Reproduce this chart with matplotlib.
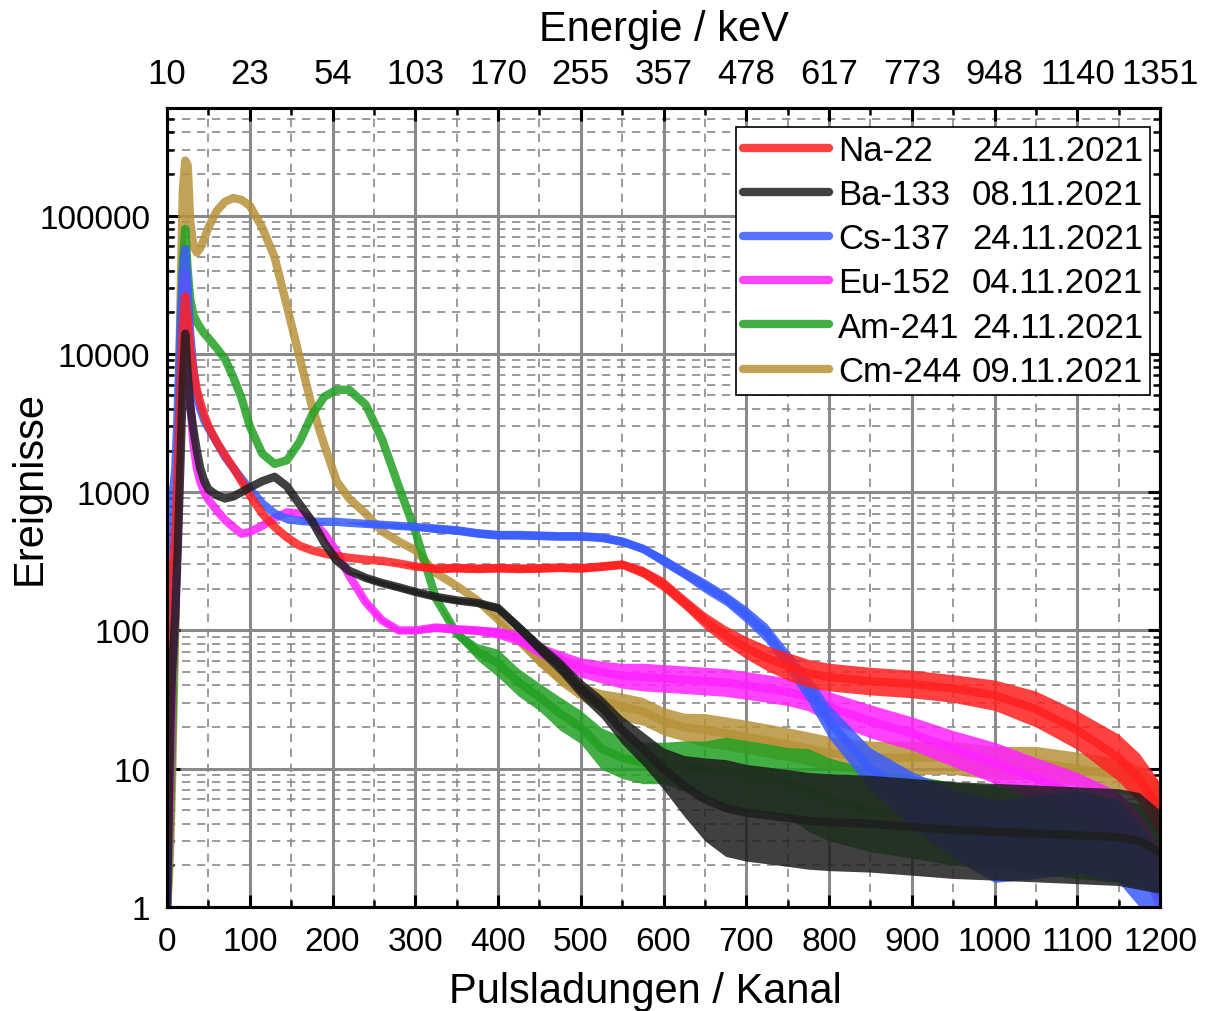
import numpy as np
import matplotlib.pyplot as plt
from matplotlib import ticker
from matplotlib.lines import Line2D

plt.rcParams['font.family'] = ['Liberation Sans', 'DejaVu Sans']

# channel grid the spectra were read on
ch = [0, 2, 4, 6, 8, 10,
      13, 16, 19, 22, 25, 28,
      32, 36, 40, 45, 50,
      60, 70, 80, 90, 100,
      115, 130, 145, 160, 175, 190, 205, 220,
      240, 260, 280, 300,
      325, 350, 375, 400, 425, 450, 475, 500,
      525, 550, 575, 600, 625, 650, 675, 700,
      725, 750, 775, 800,
      850, 900, 950, 1000, 1050, 1100, 1150, 1175, 1200]

# counts (centre of the trace) and noise half-width in decades
na22 = [3, 250, 300, 300, 330, 500,
        1500, 5000, 15000, 26000, 18000, 11000,
        7500, 5500, 4500, 3600, 3000,
        2300, 1850, 1500, 1200, 950,
        700, 560, 470, 410, 380, 360, 345, 335,
        325, 318, 305, 290,
        280, 283, 280, 283, 280, 282, 285, 282,
        290, 300, 265, 215, 160, 118, 92, 75,
        63, 55, 49, 46,
        43, 41, 38, 34, 27, 19, 12, 8.5, 5]
na22_noise = [0] * 33 + [.02] + [.03] * 8 + \
    [.03, .03, .04, .05, .05, .06, .07, .08,
     .09, .1, .1, .1,
     .1, .1, .1, .11, .13, .14, .17, .18, .2]

ba133 = [1, 5, 20, 50, 80, 130,
         400, 1500, 6000, 14000, 7000, 4200,
         2800, 2000, 1500, 1200, 1050,
         950, 900, 930, 1000, 1080,
         1200, 1290, 1100, 820, 620, 430, 320, 270,
         240, 220, 205, 190,
         175, 165, 158, 145, 105, 75, 55, 38,
         28, 19, 14, 10, 7.5, 6, 5.2, 4.8,
         4.6, 4.4, 4.2, 4.1,
         4, 3.8, 3.6, 3.5, 3.4, 3.3, 3.2, 3, 2.5]
ba133_noise = [0] * 30 + [.02] * 4 + \
    [.02, .02, .02, .03, .04, .05, .06, .07,
     .08, .1, .12, .15, .22, .3, .35, .35,
     .35, .35, .35, .35,
     .35, .35, .35, .35, .35, .35, .35, .35, .3]

cs137 = [1, 400, 1000, 1000, 1100, 1500,
         4000, 15000, 40000, 57000, 30000, 14000,
         7500, 5000, 4000, 3300, 2900,
         2300, 1800, 1500, 1250, 1050,
         830, 700, 640, 620, 610, 610, 610, 600,
         590, 580, 570, 560,
         545, 530, 505, 490, 490, 485, 480, 480,
         470, 440, 390, 320, 260, 210, 170, 130,
         95, 60, 38, 22,
         10, 6, 4, 3, 3.2, 3.5, 3, 2, 1.2]
cs137_noise = [0] * 30 + [.02] * 4 + [.03] * 8 + \
    [.03, .03, .03, .04, .04, .05, .05, .06,
     .07, .08, .1, .12,
     .15, .2, .25, .3, .3, .3, .3, .3, .3]

eu152 = [1, 3, 10, 40, 80, 150,
         500, 3000, 15000, 38000, 12000, 4500,
         2200, 1500, 1200, 1000, 880,
         740, 630, 560, 500, 515,
         570, 650, 715, 700, 620, 500, 370, 250,
         160, 118, 100, 100,
         105, 102, 100, 96, 88, 72, 62, 54,
         50, 47, 46, 45, 44, 43, 42, 40,
         38, 36, 33, 28,
         22, 18, 14, 11, 8.5, 6.5, 4.5, 3, 1.5]
eu152_noise = [0] * 30 + [.02] * 4 + \
    [.03, .03, .03, .04, .05, .05, .06, .07,
     .08, .09, .1, .1, .1, .1, .1, .1,
     .1, .1, .1, .11,
     .12, .12, .13, .15, .15, .16, .18, .2, .25]

am241 = [1, 2, 5, 15, 50, 150,
         1000, 8000, 45000, 80000, 40000, 25000,
         19000, 17000, 15500, 14000, 13000,
         11000, 9200, 6800, 4800, 3000,
         1900, 1600, 1700, 2300, 3600, 4900, 5500, 5500,
         4300, 2400, 1100, 520,
         170, 95, 70, 58, 42, 33, 25, 20,
         14, 12, 11, 11, 10.5, 10, 9.5, 9,
         8.5, 8, 7, 6,
         5, 4.5, 4, 3.8, 3.5, 3.2, 3, 2.8, 2.5]
am241_noise = [0] * 34 + \
    [0, .03, .06, .1, .1, .1, .12, .12,
     .15, .15, .15, .15, .18, .2, .25, .25,
     .25, .25, .3, .3] + [.3] * 9

cm244 = [1, 1.5, 3, 8, 30, 100,
         1500, 20000, 150000, 250000, 230000, 90000,
         60000, 54000, 58000, 68000, 82000,
         108000, 126000, 134000, 130000, 118000,
         82000, 50000, 22000, 9500, 4200, 2200, 1200, 900,
         700, 520, 440, 380,
         260, 210, 165, 120, 85, 60, 45, 36,
         31, 28, 26, 22, 20, 19, 18, 17,
         16, 15, 14, 13,
         12, 12, 12, 11, 11, 10, 9, 8, 6]
cm244_noise = [0] * 34 + \
    [0, 0, 0, .02, .03, .04, .05, .06,
     .08, .1, .1, .1, .1, .12, .12, .12] + [.12] * 13

names = ['Na-22', 'Ba-133', 'Cs-137', 'Eu-152', 'Am-241', 'Cm-244']
dates = ['24.11.2021', '08.11.2021', '24.11.2021', '04.11.2021',
         '24.11.2021', '09.11.2021']
colors = ['#ff2020', '#1e1e1e', '#3a5cff', '#ff22ff', '#22a022', '#b8923a']
series = [na22, ba133, cs137, eu152, am241, cm244]
noises = [na22_noise, ba133_noise, cs137_noise, eu152_noise, am241_noise, cm244_noise]
zorders = [6, 7, 5, 4, 3, 2]

energy_labels = ['10', '23', '54', '103', '170', '255', '357', '478',
                 '617', '773', '948', '1140', '1351']

fig = plt.figure(figsize=(12.07, 10.12), dpi=100)
ax = fig.add_axes([0.1384, 0.1028, 0.8227, 0.7895])

x = np.array(ch, dtype=float)
handles = {}
for name, vals, nz, col, z in zip(names, series, noises, colors, zorders):
    v = np.array(vals, dtype=float)
    s = np.array(nz, dtype=float)
    ax.fill_between(x, v / 10**s, v * 10**s, color=col, alpha=0.85, lw=0, zorder=z)
    line, = ax.plot(x, v, color=col, lw=6, alpha=0.85, zorder=z,
                    solid_capstyle='round', solid_joinstyle='round')
    handles[name] = line

ax.set_xlim(0, 1200)
ax.set_yscale('log')
ax.set_ylim(1, 6e5)
ax.xaxis.set_major_locator(ticker.MultipleLocator(100))
ax.xaxis.set_minor_locator(ticker.MultipleLocator(50))
ax.yaxis.set_major_locator(ticker.LogLocator(base=10, numticks=10))
ax.yaxis.set_minor_locator(ticker.LogLocator(base=10, subs=np.arange(2, 10), numticks=20))
ax.yaxis.set_major_formatter(ticker.FuncFormatter(lambda v, p: f'{v:.0f}'))
ax.yaxis.set_minor_formatter(ticker.NullFormatter())

ax.set_axisbelow(True)
ax.grid(which='major', color='#8a8a8a', lw=2.2)
ax.grid(which='minor', color='#8a8a8a', lw=1.2, linestyle=(0, (5, 4)))

for sp in ax.spines.values():
    sp.set_linewidth(2.2)
ax.tick_params(which='both', direction='in', top=False, right=True,
               labelsize=24, width=2.2, colors='black')
ax.tick_params(which='major', length=9)
ax.tick_params(which='minor', length=5, width=1.8)
ax.tick_params(axis='x', pad=14)
ax.tick_params(axis='y', pad=12)

ax.set_xlabel('Pulsladungen / Kanal', fontsize=30)
ax.xaxis.set_label_coords(0.482, -0.08)
ax.set_ylabel('Ereignisse', fontsize=30)
ax.yaxis.set_label_coords(-0.118, 0.526)

ax2 = ax.twiny()
ax2.set_xlim(ax.get_xlim())
ax2.set_xticks(np.arange(0, 1201, 100))
ax2.set_xticklabels(energy_labels)
ax2.xaxis.set_minor_locator(ticker.MultipleLocator(50))
ax2.tick_params(which='both', direction='in', labelsize=25, width=2.2, pad=13)
ax2.tick_params(which='major', length=9)
ax2.tick_params(which='minor', length=5, width=1.8)
for sp in ax2.spines.values():
    sp.set_linewidth(2.2)
ax2.set_xlabel('Energie / keV', fontsize=30)
ax2.xaxis.set_label_coords(0.5, 1.085)

# legend: names in the first column, dates in a second one without handles
blank = Line2D([], [], alpha=0)
leg_handles = [handles[n] for n in names] + [blank] * len(dates)
leg = ax.legend(leg_handles, names + dates, ncol=2, loc='upper right',
                bbox_to_anchor=(0.99, 0.976), borderaxespad=0, fontsize=25,
                handlelength=2.5, handletextpad=0.25, columnspacing=-2.45,
                labelspacing=0.32, borderpad=0.2, fancybox=False,
                framealpha=1, edgecolor='black')
leg.get_frame().set_linewidth(1.2)
leg.set_zorder(20)

fig.savefig('out.png', dpi=100)
